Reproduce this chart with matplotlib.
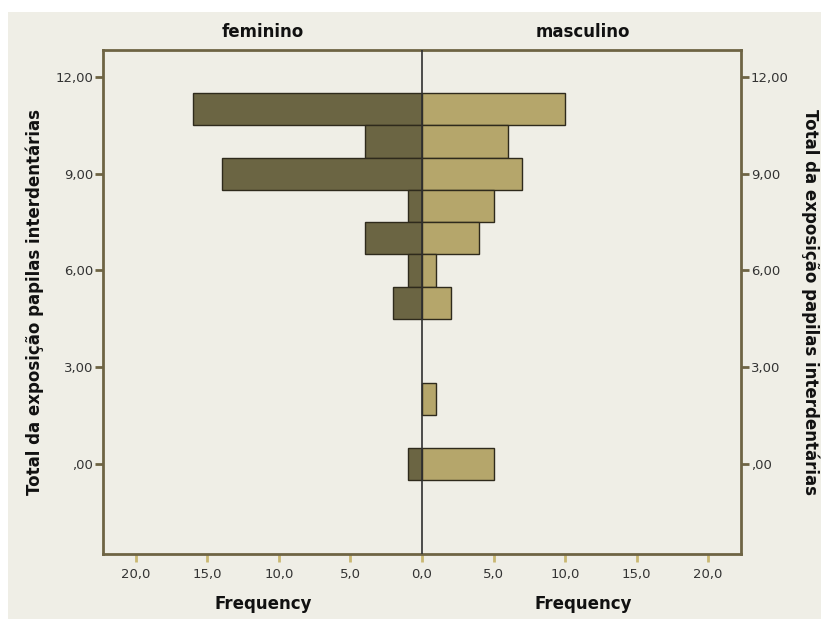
import matplotlib.pyplot as plt
from matplotlib.patches import Rectangle
from matplotlib.ticker import FuncFormatter

# bins of "Total da exposição papilas interdentárias"
bins = [11, 10, 9, 8, 7, 6, 5, 2, 0]
feminino = [16, 4, 14, 1, 4, 1, 2, 0, 1]
masculino = [10, 6, 7, 5, 4, 1, 2, 1, 5]

x_ticks = [-20, -15, -10, -5, 0, 5, 10, 15, 20]
y_ticks = [0, 3, 6, 9, 12]
y_title = "Total da exposição papilas interdentárias"

bg = "#EFEEE6"
fem_color = "#6B6543"
masc_color = "#B5A66B"
spine_color = "#6E6444"

fig = plt.figure(figsize=(8.21, 6.19), dpi=100)
fig.patch.set_facecolor("white")
# beige panel (white strip on top and left)
fig.patches.append(Rectangle((8 / 821, 0), 1, 1 - 12 / 619,
                             transform=fig.transFigure, facecolor=bg,
                             edgecolor="none", zorder=-10))

ax = fig.add_axes([103 / 821, 65 / 619, 638 / 821, 504 / 619])
ax.set_facecolor(bg)

ax.barh(bins, [-v for v in feminino], height=1.0, color=fem_color,
        edgecolor="#2E2A1C", linewidth=1.0, zorder=2)
ax.barh(bins, masculino, height=1.0, color=masc_color,
        edgecolor="#2E2A1C", linewidth=1.0, zorder=2)
ax.axvline(0, color="#303030", linewidth=1.2, zorder=3)

ax.set_xlim(-22.3, 22.3)
ax.set_ylim(-2.8, 12.84)

for s in ax.spines.values():
    s.set_color(spine_color)
    s.set_linewidth(2)

ax.set_xticks(x_ticks)
ax.xaxis.set_major_formatter(FuncFormatter(lambda v, p: f"{abs(v):.1f}".replace(".", ",")))
ax.tick_params(axis="x", length=6, width=2, color="#C9B872", pad=4,
               labelsize=9.5, labelcolor="#333333")

yfmt = FuncFormatter(lambda v, p: ",00" if v == 0 else f"{v:.2f}".replace(".", ","))
ax.set_yticks(y_ticks)
ax.yaxis.set_major_formatter(yfmt)
ax.tick_params(axis="y", length=6, width=2, color=spine_color, pad=1,
               labelsize=9.5, labelcolor="#333333")

ax2 = ax.twinx()
ax2.set_ylim(ax.get_ylim())
ax2.set_yticks(y_ticks)
ax2.yaxis.set_major_formatter(yfmt)
ax2.tick_params(axis="y", length=6, width=2, color=spine_color, pad=1,
                labelsize=9.5, labelcolor="#333333")
for s in ax2.spines.values():
    s.set_visible(False)

label_font = dict(fontsize=12, fontweight="bold", color="#111111")
fig.text(35 / 821, 1 - 302 / 619, y_title, rotation=90,
         ha="center", va="center", **label_font)
fig.text(810 / 821, 1 - 302 / 619, y_title, rotation=270,
         ha="center", va="center", **label_font)

fig.text(263 / 821, 1 - 32 / 619, "feminino", ha="center", va="center", **label_font)
fig.text(583 / 821, 1 - 32 / 619, "masculino", ha="center", va="center", **label_font)
fig.text(263 / 821, 1 - 604 / 619, "Frequency", ha="center", va="center", **label_font)
fig.text(583 / 821, 1 - 604 / 619, "Frequency", ha="center", va="center", **label_font)

fig.savefig("out.png", dpi=100, facecolor=fig.get_facecolor())
